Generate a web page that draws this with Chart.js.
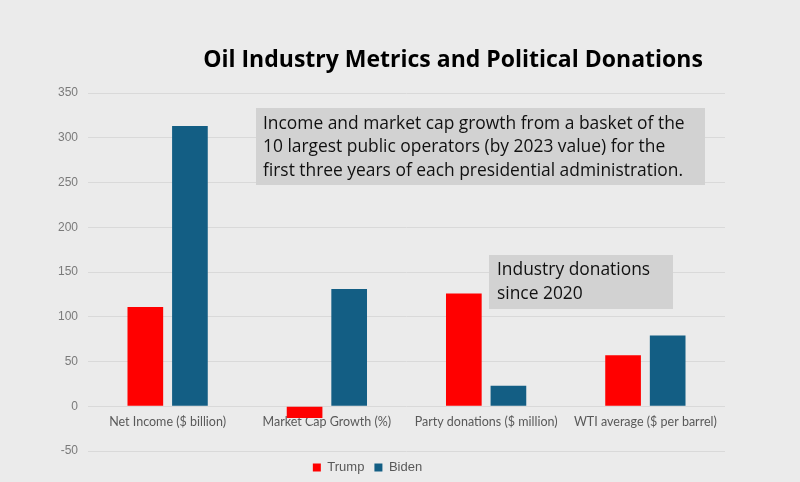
<!DOCTYPE html>
<html>
<head>
<meta charset="utf-8">
<script src="https://cdn.jsdelivr.net/npm/chart.js@4.4.1/dist/chart.umd.min.js"></script>
<style>
  html, body { margin: 0; padding: 0; background: #ebebeb; }
  #wrap { width: 800px; height: 482px; }
</style>
</head>
<body>
<div id="wrap"><canvas id="chart"></canvas></div>
<script>
const categories = ['Net Income ($ billion)', 'Market Cap Growth (%)', 'Party donations ($ million)', 'WTI average ($ per barrel)'];
const trumpValues = [111, -13, 126, 57];
const bidenValues = [313, 131, 23, 79];
const titleText = 'Oil Industry Metrics and Political Donations';
const noteMain = [
  'Income and market cap growth from a basket of the',
  '10 largest public operators (by 2023 value) for the',
  'first three years of each presidential administration.'
];
const noteDonations = ['Industry donations', 'since 2020'];

// draws the title and the two grey text boxes
const overlay = {
  id: 'overlay',
  afterDraw(chart) {
    const ctx = chart.ctx;
    ctx.save();
    ctx.fillStyle = '#000';
    ctx.font = 'bold 23px "Open Sans"';
    ctx.textAlign = 'center';
    ctx.textBaseline = 'middle';
    ctx.fillText(titleText, 453, 60);

    ctx.textAlign = 'left';
    ctx.font = '17.4px "Open Sans"';
    ctx.fillStyle = '#d2d2d2';
    ctx.fillRect(256, 108, 449, 77);
    ctx.fillStyle = '#111';
    noteMain.forEach((t, i) => ctx.fillText(t, 263, 124 + i * 23.5));

    ctx.fillStyle = '#d2d2d2';
    ctx.fillRect(489, 255, 184, 54);
    ctx.fillStyle = '#111';
    noteDonations.forEach((t, i) => ctx.fillText(t, 497, 270 + i * 24));
    ctx.restore();
  }
};

new Chart(document.getElementById('chart'), {
  type: 'bar',
  data: {
    labels: categories,
    datasets: [
      { label: 'Trump', data: trumpValues, backgroundColor: '#ff0000' },
      { label: 'Biden', data: bidenValues, backgroundColor: '#135e84' }
    ]
  },
  options: {
    responsive: true,
    maintainAspectRatio: false,
    animation: false,
    datasets: { bar: { categoryPercentage: 0.56, barPercentage: 0.8 } },
    layout: { padding: { top: 93, right: 75, left: 10, bottom: -2 } },
    plugins: {
      legend: {
        position: 'bottom',
        labels: {
          boxWidth: 8, boxHeight: 8, padding: 10,
          color: '#595959',
          font: { family: 'Liberation Sans', size: 13 }
        }
      },
      tooltip: { enabled: false }
    },
    scales: {
      x: {
        position: { y: 0 },
        grid: { display: false, drawTicks: false },
        border: { display: false },
        ticks: {
          color: '#595959',
          padding: 8,
          font: { family: 'Lato', size: 12.5 }
        }
      },
      y: {
        min: -50, max: 350,
        ticks: {
          stepSize: 50,
          color: '#7a7a7a',
          padding: 10,
          font: { family: 'Liberation Sans', size: 12 }
        },
        grid: { color: '#d9d9d9', drawTicks: false },
        border: { display: false },
        afterFit(scale) { scale.width = 78; }
      }
    }
  },
  plugins: [overlay]
});
</script>
</body>
</html>
